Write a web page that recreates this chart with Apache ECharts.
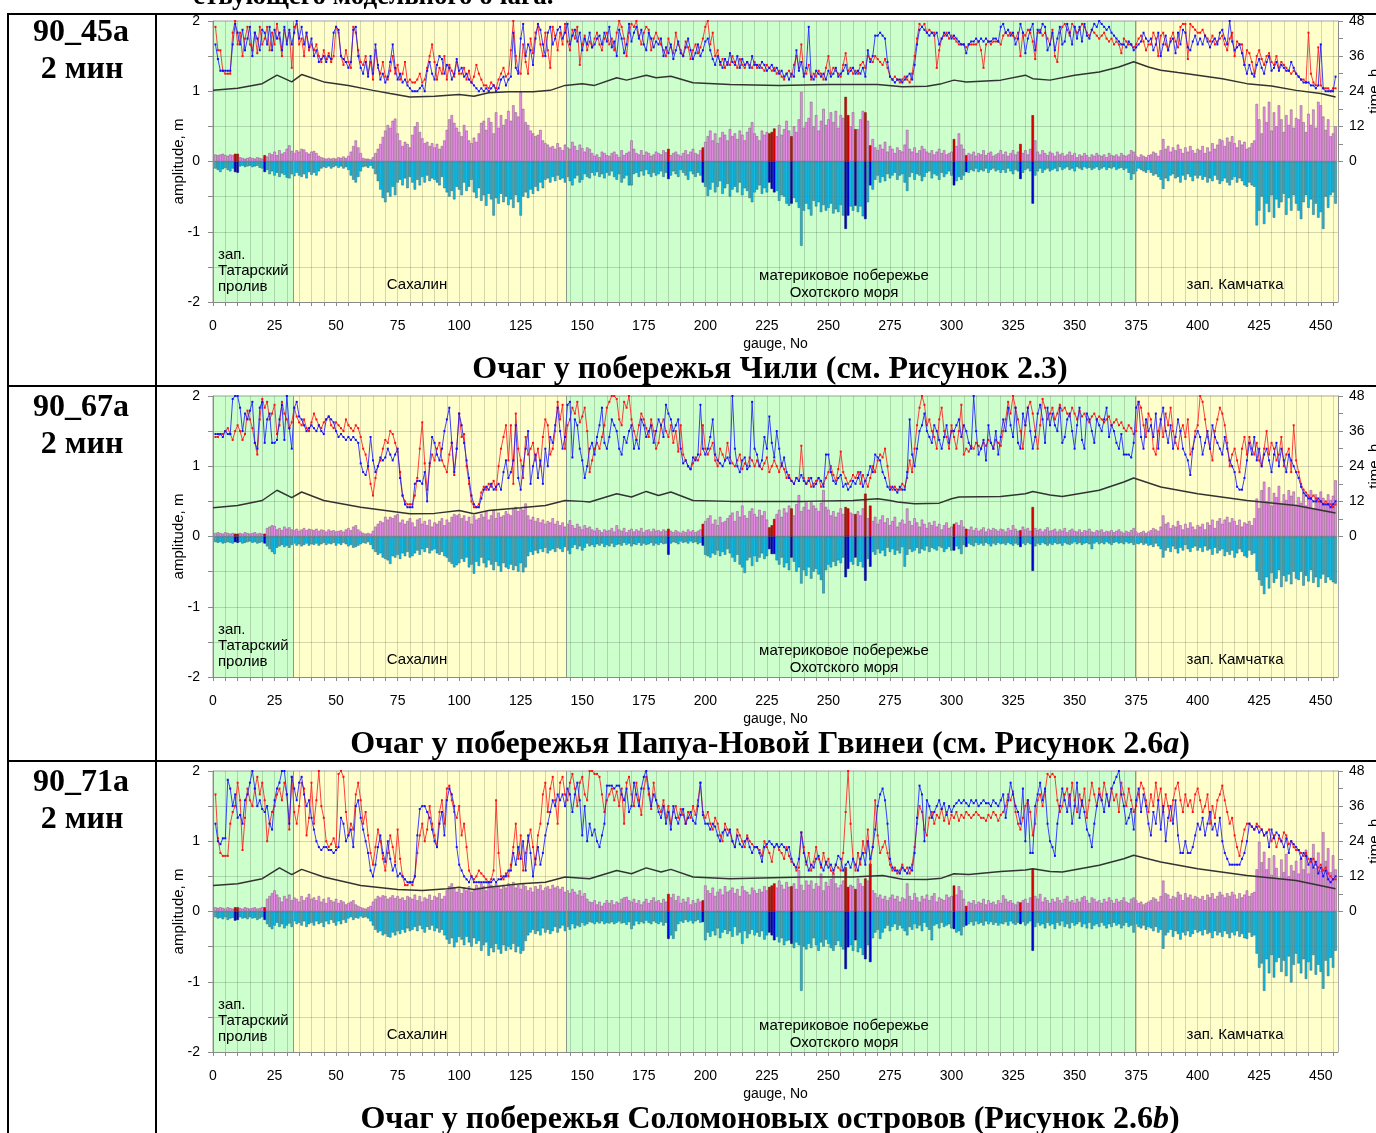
<!DOCTYPE html>
<html><head><meta charset="utf-8">
<script src="https://cdn.jsdelivr.net/npm/echarts@6/dist/echarts.min.js"></script>
<style>html,body{margin:0;padding:0;background:#fff;overflow:hidden}#c{width:1376px;height:1133px}</style>
</head><body><div id="c"></div>
<script>
// ---------------- data ----------------
const highlightGauges = [9,10,21,185,199,226,227,228,235,257,258,261,265,267,301,306,328,333];
const regionEdges = [0, 32.5, 143.5, 374.5, 457];
const regionNames = ['зап.\nТатарский\nпролив', 'Сахалин', 'материковое побережье\nОхотского моря', 'зап. Камчатка'];
const panelCodes = ['90_45a', '90_67a', '90_71a'];
const stepLabel = '2 мин';
const panelTitles = [
  '{n|Очаг у побережья Чили (см. Рисунок 2.3)}',
  '{n|Очаг у побережья Папуа-Новой Гвинеи (см. Рисунок 2.6}{i|a}{n|)}',
  '{n|Очаг у побережья Соломоновых островов (Рисунок 2.6}{i|b}{n|)}'
];
const headerText = 'ствующего модельного очага.';

// amplitude of positive / negative parts, cm (gauge 1..456)
const pos1 = [
10,9,10,11,9,8,10,9,11,11,6,5,4,5,6,5,4,6,5,4,
9,7,12,10,14,9,16,11,13,18,23,15,12,16,14,18,17,13,11,14,
15,12,8,6,5,4,5,4,5,4,6,5,7,5,8,14,22,30,20,12,
5,4,4,3,6,12,18,25,35,44,52,48,58,61,40,30,22,28,25,20,
38,50,56,42,33,26,28,22,26,20,25,18,22,30,45,60,66,55,48,42,
36,52,44,30,26,34,28,40,55,58,45,62,56,40,70,48,66,52,60,72,
58,80,70,64,99,75,56,52,44,40,36,38,45,30,26,24,20,22,18,26,
20,16,24,20,18,28,22,16,24,19,14,20,18,12,8,10,6,14,12,9,
8,12,14,10,6,16,9,12,14,30,18,12,10,16,9,14,12,8,10,14,
12,10,16,13,18,9,12,14,10,8,12,16,10,14,18,12,10,16,20,28,
36,44,30,40,26,34,42,38,30,46,36,40,32,44,38,30,42,48,56,40,
36,30,44,38,42,40,42,47,36,52,38,46,58,44,36,50,42,60,99,48,
56,62,85,50,66,44,58,75,52,60,70,56,72,48,66,62,92,66,50,70,
46,46,60,72,70,58,23,32,20,16,24,18,28,14,22,18,12,20,16,14,
24,45,18,14,20,12,16,22,18,14,12,16,10,14,18,12,16,10,12,14,
32,22,40,24,18,9,12,10,14,8,12,10,16,9,12,14,8,10,12,16,
10,14,8,12,16,10,14,25,12,16,10,18,66,30,14,10,16,12,9,14,
12,8,14,10,12,8,10,14,9,12,6,10,8,12,9,6,10,8,12,9,
8,10,6,12,9,8,10,7,12,9,8,10,16,14,8,6,10,8,6,9,
10,14,12,8,16,32,18,22,14,20,16,24,18,12,20,14,22,16,12,18,
16,22,12,20,14,26,18,24,32,30,22,34,28,36,26,20,30,24,28,18,
20,26,30,82,60,40,78,56,85,44,70,50,80,60,42,66,52,74,48,62,
60,80,56,42,68,52,74,48,85,80,64,45,60,36,40,50];
const neg1 = [
10,12,15,11,9,12,14,10,15,16,7,6,8,7,6,8,7,6,9,10,
15,12,18,14,20,16,22,17,19,23,24,18,21,16,20,22,18,24,15,19,
16,20,14,10,8,9,7,10,8,6,9,7,10,8,12,20,26,30,22,14,
8,7,9,6,10,18,28,40,52,58,44,50,36,48,30,26,34,24,38,22,
30,40,26,34,22,30,20,28,24,26,30,34,22,38,44,50,42,54,36,40,
48,30,42,36,26,44,52,38,56,48,63,46,54,77,52,60,46,58,50,62,
54,66,48,58,77,50,44,52,40,46,36,42,30,38,26,24,30,22,28,20,
26,24,30,22,28,34,24,20,30,26,18,22,24,16,20,15,22,18,24,16,
20,14,22,26,18,30,24,20,34,34,18,16,22,14,20,12,18,22,16,20,
18,14,22,16,25,20,14,18,22,12,16,20,26,14,18,22,16,20,30,36,
49,40,30,44,36,28,46,38,32,50,40,36,44,30,48,38,42,52,58,44,
40,34,46,38,44,30,39,44,42,56,48,50,60,63,60,52,58,66,120,70,
60,68,77,56,64,58,72,62,70,66,60,74,68,72,62,77,96,77,64,70,
63,72,64,78,82,58,34,40,26,20,30,22,28,18,24,20,16,26,20,18,
30,42,22,16,26,18,20,28,22,16,14,24,18,20,26,16,22,18,14,20,
34,28,22,26,20,15,16,12,14,10,15,12,14,10,16,12,10,14,12,16,
12,16,10,14,18,12,14,25,16,12,10,14,60,20,14,10,16,12,10,14,
12,10,14,8,12,10,8,12,10,14,8,10,12,8,10,9,12,10,8,12,
10,8,12,9,10,8,12,10,9,12,10,16,26,18,14,10,12,14,16,12,
16,20,18,22,26,39,24,28,20,18,24,22,30,20,26,18,22,28,20,24,
20,26,22,30,24,28,20,26,32,28,24,30,34,26,22,30,24,28,34,36,
30,34,36,91,70,50,89,60,72,48,80,54,66,58,46,76,52,70,48,60,
70,82,58,48,66,54,76,60,80,72,96,50,66,48,44,60];
// arrival times, hours
const red1 = [
46,38,38,31,30,30,30,44,48,40,44,36,42,46,40,38,44,37,46,40,
42,46,38,44,40,47,42,36,45,41,44,32,46,47,40,42,36,44,38,40,
38,40,36,34,38,35,37,34,36,46,44,36,33,38,34,32,46,44,38,34,
33,36,30,34,28,38,32,30,34,29,28,31,36,30,33,28,30,34,27,28,
27,27,28,30,27,28,32,36,40,34,28,32,30,36,28,33,31,29,34,30,
30,32,28,31,27,29,33,30,28,26,26,25,27,26,25,28,30,32,29,30,
38,48,36,31,30,40,34,30,42,37,44,46,40,36,44,38,32,46,43,38,
44,40,47,41,38,45,42,46,33,40,43,38,41,39,42,44,40,38,42,44,
40,42,38,44,48,46,42,36,44,47,46,48,43,40,44,46,45,38,42,44,
42,40,38,36,42,39,37,44,40,38,36,41,39,35,38,40,37,39,42,46,
48,40,44,36,38,33,35,32,34,33,36,34,32,35,33,32,34,33,32,34,
32,33,32,31,33,32,31,32,30,31,29,28,30,31,29,33,36,32,40,30,
30,33,28,30,29,31,30,28,32,36,30,32,31,30,29,33,37,31,32,30,
31,30,33,34,32,36,35,34,36,35,34,33,35,32,29,28,29,28,27,28,
29,28,27,30,36,42,47,46,47,44,45,44,44,32,38,42,43,44,42,43,
42,41,40,40,40,39,40,40,40,40,41,38,32,40,41,40,41,41,41,40,
43,44,43,44,43,42,44,36,44,43,45,44,41,35,44,45,43,44,42,40,
45,36,34,44,46,47,45,43,47,46,44,45,47,46,44,43,45,44,43,42,
43,44,42,41,42,40,41,40,37,42,41,40,40,39,40,42,43,41,38,40,
40,44,42,36,43,44,40,38,42,44,41,39,46,47,47,35,47,46,45,44,
44,45,43,42,41,43,40,41,42,43,40,38,42,44,36,41,40,40,33,38,
37,34,30,36,38,35,33,36,37,34,33,36,32,34,33,32,31,30,31,30,
29,28,28,27,44,30,27,26,39,26,25,25,25,24,25,25];
const blue1 = [
40,35,31,31,31,31,31,40,47,44,40,45,38,42,46,36,44,42,38,45,
44,40,46,38,45,42,44,38,46,40,45,40,44,48,42,46,40,44,39,42,
36,38,34,35,36,34,36,35,44,46,45,36,35,34,32,34,45,46,36,32,
30,34,29,36,30,40,33,28,30,27,29,34,40,32,28,30,27,28,26,25,
24,24,24,25,26,24,31,34,30,28,33,36,35,30,33,32,28,30,35,31,
32,29,30,28,27,26,25,24,25,24,25,24,25,26,24,25,28,29,26,28,
29,44,32,30,42,47,36,40,38,33,42,47,45,40,36,44,46,40,42,45,
46,42,44,47,40,43,45,41,44,38,42,40,44,39,40,42,43,40,44,41,
46,39,41,36,45,42,37,40,47,41,44,46,42,45,40,38,44,42,39,41,
40,42,36,39,37,40,35,38,41,37,36,39,42,38,35,37,40,36,38,41,
42,38,35,33,36,34,32,35,33,37,34,33,36,32,35,33,34,32,36,33,
33,32,34,33,31,32,33,31,32,30,31,29,30,28,30,29,38,31,34,29,
32,46,29,28,31,30,29,30,28,31,29,30,32,29,30,31,33,30,31,32,
30,31,30,32,29,38,34,36,43,43,44,43,42,34,29,28,27,28,28,27,
28,29,30,28,33,40,45,46,45,44,43,44,43,44,40,42,44,43,44,42,
43,42,41,40,40,37,40,41,41,42,41,42,41,42,41,41,42,42,41,46,
47,44,45,43,44,40,42,47,44,37,42,45,47,38,45,44,47,46,38,40,
44,38,42,46,40,41,47,44,40,46,42,46,41,47,43,42,45,47,46,48,
47,46,45,46,44,43,42,41,40,40,39,41,40,38,39,40,41,44,42,41,
42,38,40,44,36,40,43,38,41,42,37,44,40,45,44,39,38,41,43,40,
42,40,43,41,39,41,42,40,44,45,42,40,48,41,38,39,40,37,33,30,
33,30,29,33,35,32,30,34,36,31,32,34,31,33,32,31,31,34,32,30,
29,28,27,27,27,26,26,25,26,40,25,24,24,24,24,29];
// [gauge, hours]
const black1 = [[0,24.3],[10,25],[20,26.6],[26,29.5],[32,27.2],[36,29.7],[45,27.2],[55,26],[65,24.3],[72,23.2],[80,22],[90,22.3],[100,22.9],[106,22.3],[112,23.5],[120,23.8],[130,23.8],[137,24.3],[143,26],[150,26.6],[155,26],[164,28.6],[168,27.8],[176,29.5],[180,28.6],[186,29.1],[195,26.9],[210,26.3],[230,26],[250,26.3],[270,26.3],[280,25.5],[290,25.7],[296,26.6],[301,27.8],[306,27.2],[320,27.8],[330,29.5],[333,28.3],[340,27.8],[350,29.5],[360,30.6],[368,32.3],[374,34.1],[380,32.3],[385,31.2],[392,30.4],[400,29.5],[410,28.3],[420,26.6],[430,25.8],[440,24.3],[450,23.2],[456,22]];

const pos2 = [
5,6,5,4,6,5,4,5,4,4,5,4,6,5,4,5,6,4,5,4,
4,12,14,16,15,10,12,9,14,11,13,10,9,11,8,10,12,9,11,10,
9,11,8,10,9,7,10,8,9,7,8,9,7,10,12,9,14,16,10,7,
5,4,5,4,8,14,18,22,20,28,24,28,26,30,32,20,24,18,22,26,
20,14,24,26,18,22,16,24,14,20,18,22,26,16,24,20,28,32,30,32,
26,30,22,28,18,30,24,26,32,28,36,24,30,38,26,34,28,30,36,32,
30,40,42,36,40,38,47,30,24,28,22,26,20,24,18,22,20,26,18,22,
16,20,14,18,23,16,12,18,14,10,16,12,14,10,8,12,9,6,10,8,
9,12,7,16,10,8,12,6,9,11,7,10,8,12,6,9,10,7,11,8,
9,7,10,8,11,8,6,9,7,5,8,6,10,7,9,6,8,10,18,22,
26,30,18,24,16,28,20,22,26,30,34,22,36,28,44,30,26,36,40,32,
28,38,30,36,24,13,16,25,32,38,28,40,34,44,40,30,46,59,36,42,
50,38,49,44,40,36,48,66,42,38,30,36,28,34,40,32,42,40,34,32,
32,36,30,40,61,26,44,22,28,18,24,30,20,26,16,22,28,14,20,24,
18,40,22,16,26,20,14,24,18,12,20,16,22,14,18,10,16,20,12,14,
18,20,16,23,14,11,10,14,9,12,8,10,13,7,11,9,12,10,8,11,
10,7,12,9,16,11,8,9,14,10,12,8,42,12,9,11,7,10,13,8,
9,11,7,10,8,12,6,9,11,8,7,10,6,9,8,11,7,6,9,8,
10,6,8,7,9,6,8,10,7,5,8,6,9,12,7,5,6,8,5,7,
9,12,10,8,14,30,18,20,12,16,14,22,16,10,18,12,20,14,10,16,
14,18,10,20,16,24,12,22,26,18,24,28,20,26,22,16,24,14,20,18,
22,16,26,54,40,66,78,50,70,44,62,56,72,48,60,52,66,58,64,45,
56,48,62,44,58,66,40,60,50,64,55,46,60,52,58,80];
const neg2 = [
8,9,8,10,9,8,9,10,8,9,8,10,9,8,7,9,8,10,9,8,
10,14,18,22,25,16,14,12,15,13,16,12,10,13,11,14,12,10,13,11,
12,10,13,11,9,12,10,11,9,13,10,12,9,11,14,12,16,15,13,11,
9,10,8,12,18,22,26,24,30,32,34,39,28,30,26,32,24,28,22,30,
28,24,20,26,18,22,16,24,20,18,24,26,22,28,30,36,39,44,41,38,
32,36,30,44,40,53,36,42,30,38,44,34,40,48,36,42,50,38,44,46,
40,48,42,50,38,51,44,28,22,26,20,24,18,22,16,24,20,18,22,16,
18,22,15,20,25,16,12,18,14,20,16,10,14,12,15,11,13,10,15,12,
14,10,15,12,11,13,9,12,10,14,11,12,9,13,10,12,11,9,13,10,
12,9,11,10,26,10,8,9,11,7,9,8,10,7,9,8,11,9,13,26,
28,30,24,26,20,28,22,26,18,24,30,36,26,40,44,52,34,30,42,28,
36,30,24,32,28,18,25,25,34,40,30,44,38,48,30,36,50,44,67,48,
56,44,60,50,46,54,62,81,48,40,44,36,42,34,38,30,58,46,36,40,
30,42,36,44,63,32,43,22,26,18,24,20,28,16,22,18,26,20,24,15,
43,26,18,22,20,16,24,18,20,14,22,16,18,20,14,16,22,18,15,20,
20,14,18,25,12,15,10,12,14,9,12,10,13,9,11,14,10,12,9,11,
10,12,9,11,13,10,12,15,10,12,9,11,49,14,10,12,9,11,13,10,
12,9,11,10,13,9,11,12,10,8,11,9,12,10,9,11,18,10,8,11,
9,11,8,10,12,9,8,10,9,11,8,10,9,12,10,11,9,12,10,13,
12,15,10,14,18,30,20,16,22,14,18,24,16,20,12,18,22,16,14,20,
16,22,14,20,18,26,16,24,20,18,28,22,26,20,30,24,18,22,28,30,
20,26,24,50,62,70,82,58,74,52,66,60,48,72,56,64,54,68,50,60,
62,50,70,56,64,48,66,58,72,60,54,66,58,62,65,67];
const red2 = [
34,34,35,35,36,37,35,33,36,38,36,33,35,43,40,37,32,28,40,47,
44,46,40,42,45,35,38,46,42,40,37,39,44,41,39,38,40,37,36,39,
42,40,38,37,39,40,41,38,37,39,38,37,36,40,38,37,36,38,37,34,
30,28,24,18,14,20,24,26,30,33,32,36,35,32,29,22,14,12,11,11,
11,14,20,30,39,25,16,24,28,26,30,32,26,24,22,28,32,21,30,42,
34,35,24,18,12,10,10,11,15,17,16,18,17,19,16,24,30,34,38,26,
38,18,42,30,26,20,34,28,30,32,26,30,24,34,40,38,28,30,36,46,
40,45,30,38,40,44,42,46,39,41,44,36,22,26,30,32,30,34,38,44,
46,48,48,47,40,38,46,44,48,40,36,33,38,42,40,37,34,40,36,30,
32,38,40,36,34,38,32,36,29,38,28,26,24,23,25,27,26,28,38,30,
28,30,32,26,24,30,28,26,32,27,25,24,26,28,23,25,24,27,26,24,
26,24,23,25,27,22,24,26,24,22,25,23,20,21,19,18,20,19,31,20,
18,20,17,18,19,20,17,18,20,22,24,21,19,23,29,22,20,18,19,21,
20,22,18,21,19,17,20,24,22,26,28,27,30,24,17,16,17,16,16,18,
17,20,26,22,30,38,44,48,45,38,40,36,34,30,40,44,36,34,30,38,
34,30,36,45,28,30,29,31,30,32,31,30,32,31,33,32,30,33,32,31,
36,40,46,42,48,44,40,36,30,38,44,46,42,36,30,38,47,44,40,42,
44,40,42,45,43,44,42,41,44,42,40,43,41,42,40,39,41,42,40,41,
40,39,40,41,38,39,40,38,39,37,36,38,37,35,36,46,44,38,34,42,
40,30,28,36,40,34,42,38,44,36,32,30,36,38,34,40,28,30,36,38,
48,46,40,34,30,26,36,40,44,42,38,32,24,28,30,26,22,30,34,28,
34,30,28,32,26,24,30,36,28,32,30,26,28,34,24,28,30,22,38,26,
22,18,16,15,14,13,14,13,12,12,11,12,11,11,10,11];
const blue2 = [
35,35,35,34,36,35,35,47,48,48,44,36,42,40,43,46,32,30,44,46,
32,40,42,32,32,33,40,45,33,48,37,30,44,46,41,40,38,36,37,38,
37,36,38,36,35,40,41,40,39,36,34,35,34,33,34,33,34,33,32,25,
22,21,24,34,26,22,24,27,26,27,30,28,26,28,30,20,14,11,10,10,
10,18,19,19,18,22,12,25,34,32,28,26,30,36,40,44,32,22,30,42,
38,32,26,20,14,11,10,10,13,16,17,16,18,16,17,18,16,22,26,20,
22,26,38,20,16,24,30,36,18,24,28,20,26,18,30,24,34,32,38,44,
36,30,34,45,46,27,40,38,30,26,20,24,30,32,28,34,38,44,32,30,
34,40,38,36,30,28,34,32,36,38,30,33,30,40,38,34,36,38,32,36,
40,38,34,45,42,40,36,38,40,30,25,26,24,23,27,26,28,45,30,28,
30,34,40,28,26,25,24,26,27,25,48,30,24,22,26,27,23,24,46,30,
28,24,26,34,30,41,32,27,36,30,24,27,22,20,19,18,20,19,21,19,
18,19,20,17,18,20,19,17,28,28,22,19,18,20,21,17,18,16,17,19,
18,20,22,17,19,21,24,22,28,27,26,22,20,17,16,17,16,15,17,16,
16,22,40,28,24,30,36,38,42,36,34,32,38,36,33,30,34,38,32,36,
36,38,40,34,38,36,32,30,48,36,28,30,33,26,38,32,30,36,28,34,
40,36,44,38,34,44,32,30,42,38,44,36,30,34,42,45,40,32,44,38,
42,38,36,44,32,34,40,42,36,30,38,44,33,30,42,40,36,32,40,38,
36,40,44,34,38,36,32,30,35,28,28,28,27,32,44,46,34,30,40,36,
38,34,42,30,40,44,36,32,38,30,34,40,36,30,28,26,21,30,34,36,
34,28,32,36,30,38,34,32,30,28,34,30,26,24,22,17,16,16,20,26,
32,28,34,26,30,24,28,30,26,22,28,32,24,30,26,22,28,26,24,22,
20,17,15,14,13,13,12,12,13,12,11,11,11,10,11,12];
const black2 = [[0,9.8],[10,10.6],[20,12.3],[26,15.8],[32,13.3],[36,15.2],[45,12.3],[60,10],[70,8.9],[80,7.8],[90,7.9],[100,8.9],[106,7.8],[112,8.9],[125,9.8],[135,10.6],[143,12.3],[150,12],[153,11.8],[164,14.6],[170,13.5],[176,15.4],[181,14],[186,15.2],[195,12.3],[210,12],[240,12],[260,12.3],[270,12.9],[275,12.3],[278,11.8],[285,11.2],[295,11.4],[300,12.9],[303,13.5],[320,13.7],[330,14.6],[333,15.4],[340,14.2],[345,13.7],[360,15.8],[370,18.6],[374,20],[385,16.9],[400,14.6],[420,12.3],[440,10.6],[456,8]];

const pos3 = [
6,5,6,5,4,6,5,4,6,6,5,4,6,5,4,5,6,4,5,6,
6,18,22,26,30,24,20,14,22,18,24,16,20,18,14,22,16,20,25,18,
20,16,22,14,18,12,20,16,14,18,12,16,14,10,12,14,16,10,8,6,
5,4,6,8,14,18,22,20,23,22,18,20,23,19,22,18,20,16,22,20,
18,24,16,22,14,20,18,24,16,22,20,26,18,22,30,36,40,34,28,32,
26,34,30,36,28,32,38,34,40,36,30,42,38,34,40,36,32,38,34,40,
36,42,34,38,32,40,36,30,34,28,36,32,38,30,34,36,32,38,34,36,
32,35,28,30,26,32,28,24,30,22,26,18,14,13,16,10,14,8,12,16,
12,16,10,14,12,18,20,21,16,14,18,12,16,10,14,18,12,16,20,14,
16,12,18,14,25,20,25,16,22,12,18,14,20,10,16,12,18,14,16,37,
30,26,34,22,28,32,24,36,28,30,34,26,32,22,36,30,28,24,34,30,
26,32,28,36,30,35,37,40,34,44,38,32,42,35,36,40,32,59,38,30,
44,38,44,32,40,36,54,30,42,36,46,54,40,34,38,44,63,35,38,36,
32,47,40,36,47,44,68,30,26,20,24,18,22,16,20,24,18,22,14,20,
18,40,22,16,26,20,14,22,18,24,16,22,26,14,20,18,16,24,20,22,
37,24,36,30,18,8,14,12,16,10,14,12,18,10,16,12,14,10,16,12,
23,18,14,16,12,10,14,13,16,18,12,20,61,22,18,25,14,20,16,12,
18,14,20,16,12,18,22,14,16,12,18,14,20,22,16,12,20,18,14,16,
12,18,14,20,16,12,18,14,16,20,14,12,18,20,16,12,14,10,12,14,
16,20,18,14,22,44,26,24,18,22,20,28,24,16,26,20,24,18,22,20,
18,22,16,24,20,26,18,22,28,24,20,26,22,28,24,18,26,20,24,30,
22,26,28,60,99,70,85,60,76,52,80,62,48,74,56,82,50,66,58,72,
54,76,60,88,54,70,96,62,84,58,113,72,90,56,80,60];
const neg3 = [
8,10,9,11,8,12,10,9,13,12,8,10,9,11,8,10,9,12,10,8,
12,18,22,25,20,16,22,18,24,20,17,22,14,18,16,20,14,22,18,16,
20,14,18,16,22,14,18,12,16,20,14,18,12,16,10,8,12,9,10,7,
9,8,10,14,20,26,30,28,34,32,36,37,30,34,28,32,26,30,24,28,
26,22,28,20,25,30,22,26,20,28,24,30,26,34,40,46,38,51,44,36,
40,48,36,44,50,38,46,42,56,48,44,63,52,58,46,54,60,48,56,50,
54,46,58,50,60,56,42,34,30,26,32,28,34,24,30,26,32,28,22,30,
24,20,28,22,26,18,24,20,22,16,20,18,15,16,18,15,17,14,18,16,
17,15,18,16,14,17,16,19,15,25,20,14,18,15,17,13,16,18,14,16,
18,15,20,16,39,34,39,28,18,14,16,12,15,13,17,14,12,16,15,41,
30,36,28,34,24,38,30,26,32,28,36,22,34,30,46,28,38,32,26,34,
30,36,28,40,34,30,34,41,36,44,38,48,42,41,46,52,44,48,113,50,
54,46,52,38,48,56,44,50,40,46,52,56,48,42,50,54,82,51,48,56,
41,58,52,62,68,48,72,38,30,26,39,30,24,20,28,22,18,26,20,24,
28,34,22,26,18,24,20,28,16,22,26,41,20,18,24,16,22,20,18,24,
25,30,28,34,22,20,18,15,20,14,18,16,20,14,18,15,19,16,20,17,
18,15,20,14,17,19,16,18,15,20,17,14,56,22,16,20,18,24,16,20,
18,25,16,20,14,22,18,24,16,20,18,15,22,18,24,16,25,20,18,22,
16,20,24,18,22,16,20,18,24,20,16,22,20,30,18,22,24,20,26,22,
24,28,22,30,26,53,34,30,26,36,28,32,40,30,34,28,36,32,26,30,
28,34,26,32,30,38,28,34,30,36,28,32,38,30,34,28,36,32,38,39,
30,36,34,60,80,74,113,68,88,62,94,72,66,86,70,92,64,101,76,60,
74,88,68,96,72,84,62,90,76,86,110,70,92,66,80,56];
const red3 = [
40,25,20,19,19,19,30,34,36,44,38,21,32,42,38,36,42,46,40,44,
38,24,30,34,36,40,42,38,44,40,28,46,34,30,36,44,42,26,32,44,
30,38,48,36,32,24,22,23,25,22,47,48,46,34,26,30,28,40,44,38,
30,34,26,20,16,22,28,24,18,14,20,26,22,17,28,18,12,9,9,10,
9,12,20,26,30,24,28,36,30,26,22,34,38,30,42,43,38,34,32,36,
26,30,22,14,12,11,12,14,13,12,11,10,11,14,38,20,12,11,13,12,
16,22,30,18,26,14,20,24,28,22,16,26,30,40,44,34,42,46,38,30,
44,46,40,38,44,47,42,36,44,46,40,38,48,48,47,47,46,40,34,38,
40,42,38,41,36,42,30,44,46,40,36,44,38,33,42,46,40,35,44,38,
36,34,38,32,36,30,34,36,32,35,33,30,34,32,36,33,38,44,34,32,
34,30,28,32,30,26,24,30,28,27,24,22,28,26,24,22,26,24,23,22,
22,21,19,24,22,20,17,22,23,21,20,18,22,19,17,16,14,15,27,22,
16,20,14,17,22,18,15,20,16,18,14,13,16,15,14,20,34,48,30,18,
14,20,16,24,20,28,16,22,38,26,20,22,24,20,16,14,15,13,14,16,
14,15,13,16,22,30,36,34,28,26,32,34,30,33,32,35,31,34,30,33,
32,34,31,33,32,34,33,32,33,34,33,32,32,31,33,32,34,33,31,33,
34,36,40,38,41,34,30,28,32,36,38,34,26,30,38,40,36,41,47,46,
47,46,38,34,36,40,42,36,44,38,34,40,36,42,32,38,44,40,36,42,
38,44,40,36,42,38,40,34,44,40,36,42,38,34,36,40,44,42,38,34,
40,36,44,38,42,34,40,36,31,38,42,44,38,34,40,36,38,34,40,42,
38,34,36,40,30,36,32,38,40,43,38,34,30,32,26,22,19,24,28,30,
30,29,28,30,29,28,26,27,28,24,26,22,25,24,27,26,23,24,22,21,
21,20,19,20,18,17,18,16,15,16,14,15,13,12,11,11];
const blue3 = [
30,24,23,25,25,45,42,36,40,32,33,30,38,40,44,48,42,36,38,35,
34,36,30,28,38,42,44,48,48,40,30,46,42,38,44,46,40,36,38,32,
28,24,22,21,22,22,21,21,20,21,22,32,30,24,26,28,22,36,38,32,
28,24,20,14,12,16,22,26,20,17,24,18,14,16,12,13,12,11,10,10,
10,12,26,35,36,36,34,32,28,24,22,30,34,26,38,42,40,36,22,16,
14,12,11,10,12,10,10,10,10,10,10,10,10,11,10,11,11,12,12,14,
14,20,16,22,18,24,14,26,20,12,18,22,16,20,26,30,34,38,36,40,
38,40,36,42,40,34,40,44,38,26,36,24,30,26,28,24,22,26,30,43,
43,43,42,43,43,40,38,42,34,36,44,40,36,42,46,48,42,36,40,38,
34,32,36,30,34,28,36,32,30,33,35,30,32,34,31,30,36,44,33,30,
30,28,30,29,26,24,27,28,26,28,24,22,26,23,22,24,25,22,20,22,
22,20,17,22,23,24,23,22,23,22,23,22,21,22,18,16,15,18,27,20,
17,14,16,15,18,19,16,14,17,15,16,14,16,19,18,14,16,17,15,18,
16,14,18,20,16,24,18,22,28,36,40,42,38,30,18,15,14,14,13,15,
14,13,15,14,20,32,43,40,24,38,36,32,34,36,38,35,37,33,36,34,
36,37,38,37,38,37,36,38,37,38,36,37,38,37,37,36,38,37,36,38,
40,32,38,44,40,36,34,30,42,24,38,20,20,36,40,44,38,42,30,24,
22,19,30,36,42,38,34,40,30,36,44,32,38,34,28,26,22,30,36,40,
38,34,40,36,42,44,46,48,40,36,30,32,35,28,38,42,34,40,36,30,
26,34,30,38,28,36,24,32,36,30,38,26,20,20,24,20,20,22,26,30,
28,32,26,30,34,28,30,26,32,24,20,18,16,16,16,16,16,18,20,24,
30,29,28,29,27,28,26,27,22,28,25,27,26,24,22,25,20,24,23,22,
21,18,20,19,16,18,15,17,13,15,12,14,11,10,11,12];
const black3 = [[0,8.9],[10,9.5],[20,11.2],[27,14.9],[32,12.6],[36,14.4],[45,11.8],[60,8.9],[75,7.5],[85,7.2],[95,7.8],[100,8.3],[106,7.5],[112,8.3],[125,9.5],[135,10],[143,11.8],[150,11.4],[153,11.2],[164,14],[170,12.9],[176,14.9],[182,13.5],[186,14.4],[195,11.8],[210,11.2],[240,11.8],[260,11.8],[272,12.3],[280,11],[290,10.9],[296,11.4],[301,12.9],[307,12.6],[320,13.7],[330,14.2],[333,14.6],[340,13.7],[345,13.5],[360,15.8],[370,18],[374,19.2],[385,16.9],[400,14.6],[420,12.3],[440,10.6],[456,7.8]];

// ---------------- chart ----------------
const SANS = '"Liberation Sans", Arial, sans-serif';
const SERIF = '"Liberation Serif", "Times New Roman", serif';
const regionFills = ['#ccffcc', '#ffffcc', '#ccffcc', '#ffffcc'];
const gridLine = 'rgba(0,0,0,0.16)';
const axisGray = '#8a8a8a';

const panels = [
  {pos: pos1, neg: neg1, red: red1, blue: blue1, black: black1},
  {pos: pos2, neg: neg2, red: red2, blue: blue2, black: black2},
  {pos: pos3, neg: neg3, red: red3, blue: blue3, black: black3}
];

const grid = [], xAxis = [], yAxis = [], series = [], graphic = [];
const labelStyle = {color: '#000', fontSize: 14, fontFamily: SANS};

panels.forEach((p, k) => {
  const top = 21 + 375 * k;
  const gA = grid.length;
  grid.push({left: 213, top: top, width: 1125, height: 281, outerBoundsMode: 'none', containLabel: false,
    show: true, borderColor: '#a0a0a0', borderWidth: 1, backgroundColor: 'rgba(0,0,0,0)'});
  grid.push({left: 213, top: top, width: 1125, height: 140.5, outerBoundsMode: 'none', containLabel: false, show: false});
  const xA = xAxis.length;
  xAxis.push({gridIndex: gA, type: 'value', min: 0, max: 457, interval: 5, z: 2.5,
    axisLine: {onZero: false, lineStyle: {color: axisGray}},
    axisTick: {length: 4, lineStyle: {color: axisGray}},
    axisLabel: Object.assign({margin: 17, showMaxLabel: false, formatter: v => (v % 25 === 0 ? String(v) : '')}, labelStyle),
    splitLine: {show: true, lineStyle: {color: gridLine, width: 1}},
    name: 'gauge, No', nameLocation: 'middle', nameGap: 35, nameMoveOverlap: false,
    nameTextStyle: {color: '#000', fontSize: 14, fontFamily: SANS}});
  xAxis.push({gridIndex: gA + 1, type: 'value', min: 0, max: 457, show: false});
  const yA = yAxis.length;
  yAxis.push({gridIndex: gA, type: 'value', min: -2, max: 2, interval: 0.5, position: 'left', z: 2.5,
    axisLine: {show: true, onZero: false, lineStyle: {color: axisGray}},
    axisTick: {show: true, length: 5, lineStyle: {color: axisGray}},
    axisLabel: Object.assign({margin: 13, formatter: v => (Number.isInteger(v) ? String(v) : '')}, labelStyle),
    splitLine: {show: true, lineStyle: {color: gridLine, width: 1}},
    name: 'amplitude, m', nameLocation: 'middle', nameGap: 27, nameRotate: 90, nameMoveOverlap: false,
    nameTextStyle: {color: '#000', fontSize: 15, fontFamily: SANS}});
  yAxis.push({gridIndex: gA + 1, type: 'value', min: 0, max: 48, interval: 6, position: 'right', z: 4,
    axisLine: {show: true, onZero: false, lineStyle: {color: axisGray}},
    axisTick: {show: true, length: 5, lineStyle: {color: axisGray}},
    axisLabel: Object.assign({margin: 11, formatter: v => (v % 12 === 0 ? String(v) : '')}, labelStyle),
    splitLine: {show: false},
    name: 'time, h', nameLocation: 'middle', nameGap: 29, nameRotate: 90, nameMoveOverlap: false,
    nameTextStyle: {color: '#000', fontSize: 15, fontFamily: SANS}});

  // coloured coast sections + separators
  series.push({type: 'line', xAxisIndex: xA, yAxisIndex: yA, data: [], silent: true, z: 0,
    markArea: {silent: true, data: regionFills.map((c, i) => [{xAxis: regionEdges[i], itemStyle: {color: c}}, {xAxis: regionEdges[i + 1]}])},
    markLine: {silent: true, symbol: ['none', 'none'], label: {show: false}, animation: false,
      lineStyle: {color: '#8d998d', width: 1, type: 'solid'},
      data: regionEdges.slice(1, -1).map(x => ({xAxis: x}))}
  });

  const barBase = {type: 'bar', xAxisIndex: xA, yAxisIndex: yA, barWidth: 2.5, barGap: '-100%', silent: true, z: 3};
  series.push(Object.assign({}, barBase, {
    itemStyle: {color: '#ea90ea', borderColor: '#80527f', borderWidth: 0.5},
    data: p.pos.map((v, i) => {
      const g = i + 1;
      return highlightGauges.includes(g) ? {value: [g, v / 100], itemStyle: {color: '#e00000', borderColor: '#700000'}} : [g, v / 100];
    })
  }));
  series.push(Object.assign({}, barBase, {
    itemStyle: {color: '#12bce6', borderColor: '#2b6577', borderWidth: 0.5},
    data: p.neg.map((v, i) => {
      const g = i + 1;
      return highlightGauges.includes(g) ? {value: [g, -v / 100], itemStyle: {color: '#0000dc', borderColor: '#000070'}} : [g, -v / 100];
    })
  }));

  const lineBase = {type: 'line', xAxisIndex: xA + 1, yAxisIndex: yA + 1, silent: true, animation: false};
  series.push(Object.assign({}, lineBase, {z: 5, symbol: 'rect', symbolSize: 2, showSymbol: true,
    lineStyle: {color: 'rgba(255,30,30,0.85)', width: 1}, itemStyle: {color: '#ff1010'},
    data: p.red.map((t, i) => [i + 1, t])}));
  series.push(Object.assign({}, lineBase, {z: 6, symbol: 'rect', symbolSize: 2, showSymbol: true,
    lineStyle: {color: 'rgba(30,30,255,0.85)', width: 1}, itemStyle: {color: '#1010ff'},
    data: p.blue.map((t, i) => [i + 1, t])}));
  series.push(Object.assign({}, lineBase, {z: 7, symbol: 'none', showSymbol: false,
    lineStyle: {color: '#333333', width: 1.5}, data: p.black}));

  // table texts
  const dy = 375 * k;
  graphic.push({type: 'text', x: 81, y: 33 + dy, silent: true,
    style: {text: panelCodes[k], font: 'bold 32px ' + SERIF, fill: '#000', align: 'center', verticalAlign: 'middle', textAlign: 'center', textVerticalAlign: 'middle'}});
  graphic.push({type: 'text', x: 82, y: 70 + dy, silent: true,
    style: {text: stepLabel, font: 'bold 32px ' + SERIF, fill: '#000', align: 'center', verticalAlign: 'middle', textAlign: 'center', textVerticalAlign: 'middle'}});
  graphic.push({type: 'text', x: 770, y: 370 + dy, silent: true,
    style: {text: panelTitles[k], fill: '#000', align: 'center', verticalAlign: 'middle', textAlign: 'center', textVerticalAlign: 'middle',
      rich: {n: {font: 'bold 32px ' + SERIF, fill: '#000'}, i: {font: 'italic bold 32px ' + SERIF, fill: '#000'}}}});
  // section names
  const secFont = '15px ' + SANS;
  graphic.push({type: 'text', x: 218, y: 271 + dy, silent: true, z: 10,
    style: {text: regionNames[0], font: secFont, lineHeight: 16, fill: '#000', align: 'left', verticalAlign: 'middle', textAlign: 'left', textVerticalAlign: 'middle'}});
  graphic.push({type: 'text', x: 417, y: 285 + dy, silent: true, z: 10,
    style: {text: regionNames[1], font: secFont, fill: '#000', align: 'center', verticalAlign: 'middle', textAlign: 'center', textVerticalAlign: 'middle'}});
  graphic.push({type: 'text', x: 844, y: 284.5 + dy, silent: true, z: 10,
    style: {text: regionNames[2], font: secFont, lineHeight: 17, fill: '#000', align: 'center', verticalAlign: 'middle', textAlign: 'center', textVerticalAlign: 'middle'}});
  graphic.push({type: 'text', x: 1235, y: 285 + dy, silent: true, z: 10,
    style: {text: regionNames[3], font: secFont, fill: '#000', align: 'center', verticalAlign: 'middle', textAlign: 'center', textVerticalAlign: 'middle'}});
});

// table rules and header fragment
const rule = (x, y, w, h) => ({type: 'rect', silent: true, shape: {x: x, y: y, width: w, height: h}, style: {fill: '#000'}});
graphic.push(rule(7, 13, 1369, 2), rule(7, 13, 2, 1120), rule(155, 13, 2, 1120), rule(7, 385, 1369, 2), rule(7, 760, 1369, 2));
graphic.push({type: 'text', x: 193, y: -3, silent: true,
  style: {text: headerText, font: 'bold 27px ' + SERIF, fill: '#000', align: 'left', verticalAlign: 'middle', textAlign: 'left', textVerticalAlign: 'middle'}});

const chart = echarts.init(document.getElementById('c'), null, {renderer: 'canvas'});
chart.setOption({animation: false, backgroundColor: '#fff', grid, xAxis, yAxis, series, graphic});
</script>
</body></html>
